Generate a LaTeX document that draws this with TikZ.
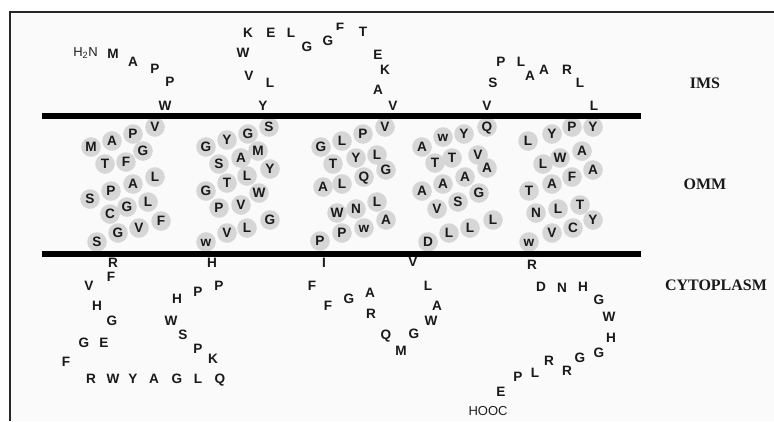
\documentclass[tikz,border=0pt]{standalone}
\usepackage{fontspec}
\setmainfont{Liberation Serif}
\newfontfamily\aafam{Liberation Sans}
\def\tmlist{V/155/127, P/133/134, A/112/141, M/91/147, G/143/151, F/126/162, T/105/164, L/155/177, A/133/184, P/111/191, S/90/199, L/148/202, G/127/207, C/110/214, F/161/221, V/139/228, G/118/233, S/97/242,
S/269/127, G/248/134, Y/227/140, G/206/147, M/258/151, A/241/158, S/219/164, Y/270/169, L/247/176, T/227/183, G/206/191, W/259/193, V/241/205, P/219/208, G/270/220, L/247/228, V/227/233, w/206/242,
V/385/127, P/363/134, L/342/141, G/321/147, L/377/155, Y/356/158, T/333/164, G/386/170, Q/364/177, L/342/184, A/323/187, L/377/202, N/356/209, W/337/213, A/386/220, w/364/228, P/342/233, P/320/241,
Q/487/127, Y/464/134, w/443/137, A/422/147, V/478/155, T/452/158, T/435/163, A/487/168, A/465/177, A/443/184, A/422/191, G/479/193, S/458/202, V/437/209, L/493/220, L/470/228, L/449/233, D/428/242,
Y/593/127, P/572/127, Y/552/134, L/528/141, A/582/151, W/560/158, L/543/164, A/593/170, F/572/177, A/552/184, T/529/191, T/580/205, L/558/209, N/536/213, Y/593/220, C/573/228, V/552/233, w/529/242}
\def\imslist{M/113/54, A/133/62, P/155/69, P/170/82, W/165/106,
K/248/33, E/271/33, L/291/33, G/307/47, G/328/41, T/363/32,
W/243/53, V/249/76, L/270/83, Y/263/106,
E/378/55, K/385/70, A/378/90, V/393/106,
P/501/62, L/521/62, A/530/76, A/544/70, R/567/70, L/580/83, S/493/83, V/487/106, L/594/106}
\def\cytlist{R/113/263, F/111/277, V/89/286, H/97/306, G/112/321, G/84/343, E/104/343, F/66/362, R/91/379, W/113/379, Y/133/379, A/154/379, G/177/379, L/198/379, Q/220/379,
H/212/263, P/219/286, P/198/292, H/177/299, W/171/321, S/183/335, P/198/349, K/213/359,
I/324/263, F/312/286, F/328/306, G/349/299, A/370/293, R/371/314, Q/386/335, M/401/351, G/414/334, W/431/321, A/437/306, L/428/286, V/413/262,
R/532/265, D/541/287, N/562/288, H/583/287, G/599/300, W/609/317, H/611/338, G/599/353, G/580/358, R/567/371, R/549/361, L/535/373, P/518/377, E/501/392}
\begin{document}
\begin{tikzpicture}[x=1pt,y=-1pt,
  aa/.style={font=\aafam\bfseries\fontsize{13.6}{13.6}\selectfont, inner sep=0pt, text height=9.7pt, text depth=0pt, text=black!90},
  term/.style={font=\aafam\fontsize{13}{13}\selectfont, inner sep=0pt, anchor=base, text=black!88},
  lab/.style={font=\bfseries\fontsize{16}{16}\selectfont, inner sep=0pt, text=black!90},
  ball/.style={fill=black!16},
  membrane/.style={line width=5.6pt, black},
  frame/.style={line width=2pt, black!85}]
\useasboundingbox (0,0) rectangle (774,421);
\fill[white] (0,0) rectangle (774,421);
\fill[black!2] (10,12.3) rectangle (774,421);
\draw[frame] (10,421) -- (10,12.3) -- (774,12.3);
% helix residues: circles first
\foreach \aaL/\x/\y in \tmlist { \fill[ball] (\x,\y) circle (9.8); }
% membrane boundaries
\coordinate (omL) at (42,116.2); \coordinate (omR) at (640.5,116.2);
\coordinate (imL) at (42,254); \coordinate (imR) at (640.5,254);
\draw[membrane] (omL) -- (omR);
\draw[membrane] (imL) -- (imR);
% letters
\foreach \aaL/\x/\y [count=\i] in \tmlist { \node[aa] (tm\i) at (\x,\y) {\aaL}; }
\foreach \aaL/\x/\y [count=\i] in \imslist { \node[aa] (ims\i) at (\x,\y) {\aaL}; }
\foreach \aaL/\x/\y [count=\i] in \cytlist { \node[aa] (cyt\i) at (\x,\y) {\aaL}; }
\begin{scope}
  \clip (333,18) rectangle (348,29);
  \node[aa] (fcut) at (340,28) {F};
\end{scope}
\node[term] (nterm) at (85.5,56.5) {H\textsubscript{2}N};
\node[term] (cterm) at (488,415.5) {HOOC};
% compartment labels
\node[lab] (ims) at (705,83) {IMS};
\node[lab] (omm) at (705,184) {OMM};
\node[lab] (cyto) at (716,285) {CYTOPLASM};
\end{tikzpicture}
\end{document}
